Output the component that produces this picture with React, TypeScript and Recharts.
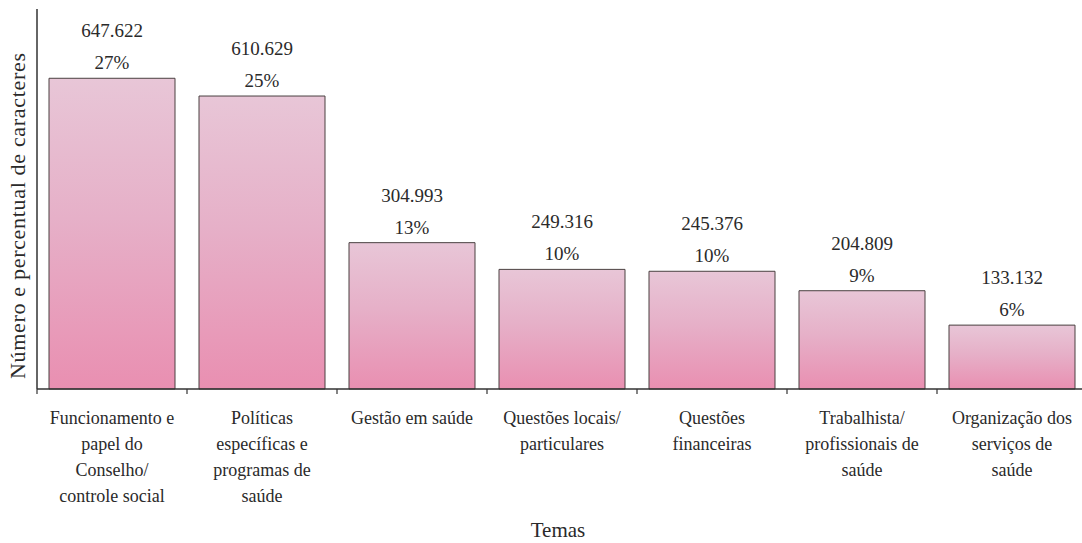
import { Bar, BarChart, LabelList, XAxis, YAxis } from "recharts";

const categories = [
  ["Funcionamento e", "papel do", "Conselho/", "controle social"],
  ["Políticas", "específicas e", "programas de", "saúde"],
  ["Gestão em saúde"],
  ["Questões locais/", "particulares"],
  ["Questões", "financeiras"],
  ["Trabalhista/", "profissionais de", "saúde"],
  ["Organização dos", "serviços de", "saúde"],
];
const values = [647622, 610629, 304993, 249316, 245376, 204809, 133132];
const valueLabels = ["647.622", "610.629", "304.993", "249.316", "245.376", "204.809", "133.132"];
const percentLabels = ["27%", "25%", "13%", "10%", "10%", "9%", "6%"];
const yMax = 792000;

const data = categories.map((lines, i) => ({
  name: lines.join(" "),
  value: values[i],
}));

const textStyle = { fontFamily: "Liberation Serif, DejaVu Serif, serif" };
const ink = "#2a2a2a";
const axisStroke = "#333";

const chartW = 1100;
const chartH = 543;
const plotLeft = 37;
const plotRight = 1087;
const band = (plotRight - plotLeft) / categories.length;

function CategoryTick(props: any) {
  const { x, y, index } = props;
  const lines = categories[index] || [];
  return (
    <g>
      <line x1={x - band / 2} x2={x - band / 2} y1={y} y2={y + 5} stroke={axisStroke} strokeWidth={1.2} />
      {index === categories.length - 1 && (
        <line x1={x + band / 2} x2={x + band / 2} y1={y} y2={y + 5} stroke={axisStroke} strokeWidth={1.2} />
      )}
      {lines.map((line, k) => (
        <text key={k} x={x} y={y + 35 + k * 26} textAnchor="middle" style={textStyle} fontSize={18} fill={ink}>
          {line}
        </text>
      ))}
    </g>
  );
}

function ValueLabel(props: any) {
  const { x, y, width, index } = props;
  const cx = x + width / 2;
  return (
    <g>
      <text x={cx} y={y - 41} textAnchor="middle" style={textStyle} fontSize={19} fill={ink}>
        {valueLabels[index]}
      </text>
      <text x={cx} y={y - 9} textAnchor="middle" style={textStyle} fontSize={19} fill={ink}>
        {percentLabels[index]}
      </text>
    </g>
  );
}

export default function App() {
  return (
    <div
      style={{
        position: "fixed",
        left: 0,
        top: 0,
        width: 1082,
        height: 543,
        overflow: "hidden",
        background: "#fff",
      }}
    >
      <BarChart
        width={chartW}
        height={chartH}
        data={data}
        margin={{ top: 9, left: 0, right: chartW - plotRight, bottom: 0 }}
        barCategoryGap={12}
      >
        <defs>
          <linearGradient id="pinkFill" x1="0" y1="0" x2="0" y2="1">
            <stop offset="0%" stopColor="#e8c6d7" />
            <stop offset="45%" stopColor="#e6b0c8" />
            <stop offset="100%" stopColor="#e98fb1" />
          </linearGradient>
        </defs>
        <XAxis
          xAxisId="top"
          dataKey="name"
          orientation="top"
          height={0}
          tick={false}
          tickLine={false}
          axisLine={{ stroke: axisStroke, strokeWidth: 1.5 }}
        />
        <XAxis
          dataKey="name"
          height={chartH - 389}
          interval={0}
          tickLine={false}
          tickSize={0}
          tickMargin={0}
          tick={<CategoryTick />}
          axisLine={{ stroke: axisStroke, strokeWidth: 1.5 }}
          label={(p: any) => {
            const vb = p.viewBox || {};
            return (
              <text
                x={vb.x + vb.width / 2 - 4}
                y={vb.y + 148}
                textAnchor="middle"
                style={textStyle}
                fontSize={21}
                fill={ink}
              >
                Temas
              </text>
            );
          }}
        />
        <YAxis
          width={plotLeft}
          domain={[0, yMax]}
          tick={false}
          tickLine={false}
          axisLine={{ stroke: axisStroke, strokeWidth: 1.5 }}
          label={(p: any) => {
            const vb = p.viewBox || {};
            const cy = vb.y + vb.height / 2 + 17;
            return (
              <text
                x={25}
                y={cy}
                transform={`rotate(-90 25 ${cy})`}
                textAnchor="middle"
                style={textStyle}
                fontSize={22}
                textLength={326}
                lengthAdjust="spacing"
                fill={ink}
              >
                Número e percentual de caracteres
              </text>
            );
          }}
        />
        <Bar dataKey="value" fill="url(#pinkFill)" stroke="#4a4040" strokeWidth={1} isAnimationActive={false}>
          <LabelList dataKey="value" content={<ValueLabel />} />
        </Bar>
      </BarChart>
    </div>
  );
}
